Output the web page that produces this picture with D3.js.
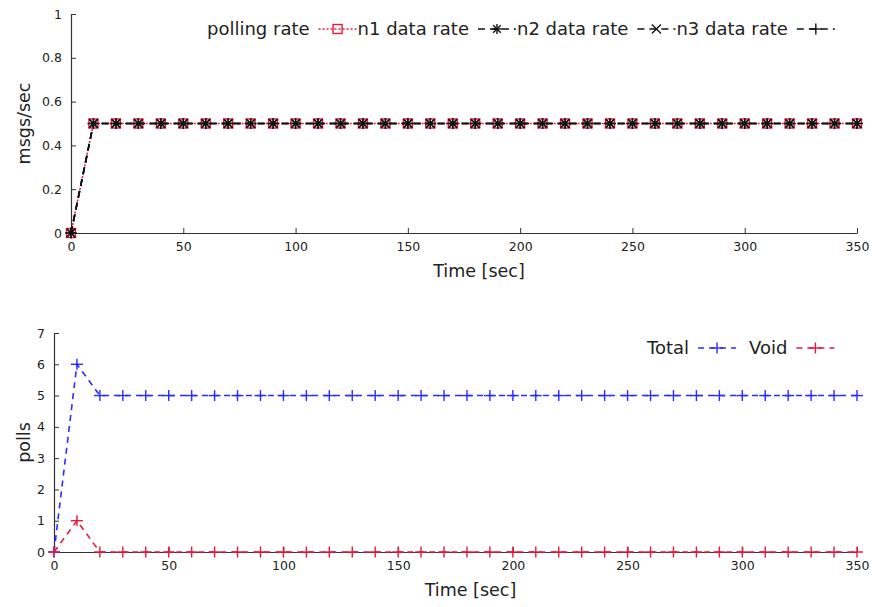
<!DOCTYPE html>
<html><head><meta charset="utf-8">
<script src="https://cdn.jsdelivr.net/npm/d3@7/dist/d3.min.js"></script>
<style>
body{margin:0;background:#fff;}
svg{font-family:"DejaVu Sans",sans-serif;}
</style></head>
<body><svg id="c" width="875" height="607"></svg>
<script>
// ---- data ----
const times = [0,10,20,30,40,50,60,70,80,90,100,110,120,130,140,150,160,170,180,190,200,210,220,230,240,250,260,270,280,290,300,310,320,330,340,350];
const pollingRate = [0,0.5,0.5,0.5,0.5,0.5,0.5,0.5,0.5,0.5,0.5,0.5,0.5,0.5,0.5,0.5,0.5,0.5,0.5,0.5,0.5,0.5,0.5,0.5,0.5,0.5,0.5,0.5,0.5,0.5,0.5,0.5,0.5,0.5,0.5,0.5];
const n1Rate = [0,0.5,0.5,0.5,0.5,0.5,0.5,0.5,0.5,0.5,0.5,0.5,0.5,0.5,0.5,0.5,0.5,0.5,0.5,0.5,0.5,0.5,0.5,0.5,0.5,0.5,0.5,0.5,0.5,0.5,0.5,0.5,0.5,0.5,0.5,0.5];
const n2Rate = [0,0.5,0.5,0.5,0.5,0.5,0.5,0.5,0.5,0.5,0.5,0.5,0.5,0.5,0.5,0.5,0.5,0.5,0.5,0.5,0.5,0.5,0.5,0.5,0.5,0.5,0.5,0.5,0.5,0.5,0.5,0.5,0.5,0.5,0.5,0.5];
const n3Rate = [0,0.5,0.5,0.5,0.5,0.5,0.5,0.5,0.5,0.5,0.5,0.5,0.5,0.5,0.5,0.5,0.5,0.5,0.5,0.5,0.5,0.5,0.5,0.5,0.5,0.5,0.5,0.5,0.5,0.5,0.5,0.5,0.5,0.5,0.5,0.5];
const totalPolls = [0,6,5,5,5,5,5,5,5,5,5,5,5,5,5,5,5,5,5,5,5,5,5,5,5,5,5,5,5,5,5,5,5,5,5,5];
const voidPolls = [0,1,0,0,0,0,0,0,0,0,0,0,0,0,0,0,0,0,0,0,0,0,0,0,0,0,0,0,0,0,0,0,0,0,0,0];
const xTicks = [0,50,100,150,200,250,300,350];
const topYTicks = [0,0.2,0.4,0.6,0.8,1];
const botYTicks = [0,1,2,3,4,5,6,7];
const topSeriesNames = ["polling rate","n1 data rate","n2 data rate","n3 data rate"];
const botSeriesNames = ["Total","Void"];

const RED = "#e8193c", BLUE = "#2b2bff", BLACK = "#111";
const svg = d3.select("#c");

function marker(g, type, x, y, color){
  const s = g.append("g").attr("transform",`translate(${x},${y})`)
    .attr("stroke",color).attr("fill","none").attr("stroke-width",1.4);
  const seg=(x1,y1,x2,y2)=>s.append("line").attr("x1",x1).attr("y1",y1).attr("x2",x2).attr("y2",y2);
  if(type==="square"){ s.append("rect").attr("x",-4.5).attr("y",-4.5).attr("width",9).attr("height",9); }
  else if(type==="plus"){ seg(-6,0,6,0); seg(0,-5.5,0,5.5); }
  else if(type==="cross"){ seg(-4.5,-4.5,4.5,4.5); seg(-4.5,4.5,4.5,-4.5); }
  else if(type==="star"){ seg(-5,0,5,0); seg(0,-5,0,5); seg(-3.8,-3.8,3.8,3.8); seg(-3.8,3.8,3.8,-3.8); }
}

function panel(opts){
  const {x0,x1,y0,y1,yDomain,yTicks,ylabel,ylabelX,series,tickFmt} = opts;
  const x = d3.scaleLinear().domain([0,350]).range([x0,x1]);
  const y = d3.scaleLinear().domain(yDomain).range([y0,y1]);
  const g = svg.append("g");
  const ax = g.append("g").attr("transform",`translate(0,${y0})`)
    .call(d3.axisBottom(x).tickValues(xTicks).tickSizeInner(-5).tickSizeOuter(0).tickPadding(9));
  const ay = g.append("g").attr("transform",`translate(${x0},0)`)
    .call(d3.axisLeft(y).tickValues(yTicks).tickFormat(tickFmt).tickSizeInner(-5).tickSizeOuter(0).tickPadding(9));
  [ax,ay].forEach(a=>{
    a.select(".domain").attr("stroke","#333").attr("stroke-width",1.2);
    a.selectAll(".tick line").attr("stroke","#333").attr("stroke-width",1);
    a.selectAll(".tick text").attr("font-size",12.5).attr("fill","#222").attr("font-family","DejaVu Sans");
  });
  g.append("text").attr("x",(x0+x1)/2+15).attr("y",y0+44).attr("text-anchor","middle")
    .attr("font-size",17.5).attr("fill","#222").text("Time [sec]");
  g.append("text").attr("transform",`translate(${ylabelX},${(y0+y1)/2}) rotate(-90)`)
    .attr("text-anchor","middle").attr("font-size",17.5).attr("fill","#222").text(ylabel);
  series.forEach(s=>{
    const line = d3.line().x((d,i)=>x(times[i])).y(d=>y(d));
    g.append("path").datum(s.values).attr("d",line).attr("fill","none")
      .attr("stroke",s.color).attr("stroke-width",s.width||1.6).attr("stroke-dasharray",s.dash);
    s.values.forEach((v,i)=>marker(g,s.marker,x(times[i]),y(v),s.color));
  });
  return {x,y};
}

const topSeries = [
  {name:topSeriesNames[0],values:pollingRate,color:RED,dash:"2,2",marker:"square",width:1.6},
  {name:topSeriesNames[1],values:n1Rate,color:BLACK,dash:"7,5",marker:"star",width:1.6},
  {name:topSeriesNames[2],values:n2Rate,color:BLACK,dash:"7,5",marker:"cross",width:1.6},
  {name:topSeriesNames[3],values:n3Rate,color:BLACK,dash:"7,5",marker:"plus",width:1.6}
];
panel({x0:71,x1:857,y0:233,y1:14,yDomain:[0,1],yTicks:topYTicks,tickFmt:d3.format("~g"),
  ylabel:"msgs/sec",ylabelX:30,series:topSeries});

const botSeries = [
  {name:botSeriesNames[0],values:totalPolls,color:BLUE,dash:"6,5",marker:"plus",width:1.6},
  {name:botSeriesNames[1],values:voidPolls,color:RED,dash:"6,5",marker:"plus",width:1.6}
];
panel({x0:54,x1:857,y0:552,y1:333,yDomain:[0,7],yTicks:botYTicks,tickFmt:d3.format("d"),
  ylabel:"polls",ylabelX:30,series:botSeries});

function legend(series,startX,cy,gap,sampleW,post){
  const g = svg.append("g");
  let cx = startX;
  series.forEach(s=>{
    const t = g.append("text").attr("x",cx).attr("y",cy).attr("dy","0.35em")
      .attr("font-size",18).attr("fill","#222").text(s.name);
    cx += t.node().getComputedTextLength() + gap;
    g.append("line").attr("x1",cx).attr("x2",cx+sampleW).attr("y1",cy).attr("y2",cy)
      .attr("stroke",s.color).attr("stroke-width",1.6).attr("stroke-dasharray",s.dash);
    marker(g,s.marker,cx+sampleW/2,cy,s.color);
    cx += sampleW + post;
  });
}
legend(topSeries,207,29,9,38,1);
legend(botSeries,647,348,9,38,13);
</script></body></html>
